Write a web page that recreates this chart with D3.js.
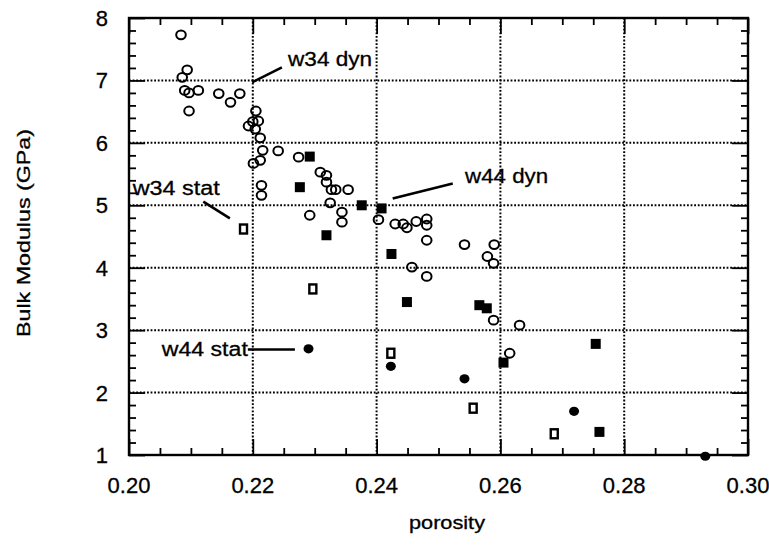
<!DOCTYPE html>
<html>
<head>
<meta charset="utf-8">
<script src="https://cdn.jsdelivr.net/npm/d3@7"></script>
<style>
  body { margin: 0; background: #fff; }
  text { font-family: "Liberation Sans", Arial, Helvetica, sans-serif; fill: #000; stroke: #000; stroke-width: 0.3px; }
</style>
</head>
<body>
<div id="canvas"></div>
<script>
//chart values: [porosity, bulk modulus GPa]
var w34dyn = [
  [0.2084, 7.73], [0.2094, 7.17], [0.2086, 7.05], [0.2090, 6.84], [0.2097, 6.80],
  [0.2112, 6.84], [0.2097, 6.51], [0.2145, 6.79], [0.2164, 6.65], [0.2179, 6.79],
  [0.2205, 6.51], [0.2193, 6.27], [0.2200, 6.34], [0.2209, 6.35], [0.2204, 6.22],
  [0.2212, 6.08], [0.2216, 5.88], [0.2241, 5.87], [0.2274, 5.77], [0.2212, 5.72],
  [0.2201, 5.67], [0.2214, 5.32], [0.2214, 5.16], [0.2309, 5.53], [0.2319, 5.48],
  [0.2319, 5.37], [0.2327, 5.25], [0.2334, 5.25], [0.2354, 5.25], [0.2325, 5.04],
  [0.2292, 4.84], [0.2344, 4.89], [0.2344, 4.73], [0.2403, 4.77], [0.2430, 4.70],
  [0.2443, 4.70], [0.2449, 4.64], [0.2464, 4.74], [0.2481, 4.78], [0.2481, 4.68],
  [0.2481, 4.44], [0.2457, 4.01], [0.2481, 3.86], [0.2542, 4.37], [0.2590, 4.37],
  [0.2579, 4.18], [0.2589, 4.07], [0.2589, 3.16], [0.2631, 3.08], [0.2615, 2.63]
];
var w44dyn = [
  [0.2292, 5.78], [0.2276, 5.29], [0.2319, 4.52], [0.2376, 5.00], [0.2408, 4.95],
  [0.2424, 4.22], [0.2449, 3.45], [0.2566, 3.40], [0.2578, 3.35], [0.2605, 2.48],
  [0.2754, 2.78], [0.2760, 1.37]
];
var w34stat = [
  [0.2185, 4.62], [0.2297, 3.66], [0.2423, 2.63], [0.2556, 1.75], [0.2687, 1.34]
];
var w44stat = [
  [0.2290, 2.70], [0.2423, 2.42], [0.2542, 2.22], [0.2719, 1.70], [0.2931, 0.98]
];

//tick values
var xMajor = [0.20, 0.22, 0.24, 0.26, 0.28, 0.30];
var xMinor = d3.range(0.205, 0.30, 0.005).filter(v => Math.abs(v * 50 - Math.round(v * 50)) > 1e-6);
var yMajor = [1, 2, 3, 4, 5, 6, 7, 8];
var yMinor = d3.range(1.2, 8, 0.2).filter(v => Math.abs(v - Math.round(v)) > 1e-6);

//annotation labels: text start/baseline and leader line, in data units
var labels = [
  {text: 'w34 dyn', at: [0.2257, 7.23], from: [0.2199, 6.97], to: [0.2247, 7.21], len: 84},
  {text: 'w44 dyn', at: [0.2543, 5.35], from: [0.2426, 5.11], to: [0.2523, 5.35], len: 83},
  {text: 'w34 stat', at: [0.2006, 5.17], from: [0.2120, 5.06], to: [0.2163, 4.79], len: 87},
  {text: 'w44 stat', at: [0.2053, 2.59], from: [0.2192, 2.69], to: [0.2268, 2.69], len: 86}
];

var cv = {width: 769, height: 546, top: 18, right: 21, bottom: 91, left: 129};
var w = cv.width - cv.left - cv.right;
var h = cv.height - cv.top - cv.bottom;

var x = d3.scaleLinear().domain([0.20, 0.30]).range([0, w]);
var y = d3.scaleLinear().domain([1, 8]).range([h, 0]);

var svg = d3.select('#canvas').append('svg')
  .attr('width', cv.width)
  .attr('height', cv.height);

var g = svg.append('g').attr('transform', 'translate(' + cv.left + ',' + cv.top + ')');

//dotted grid
g.selectAll('.vgrid')
  .data(xMajor.slice(1, -1))
  .enter().append('line')
  .attr('x1', d => x(d)).attr('x2', d => x(d))
  .attr('y1', 0).attr('y2', h)
  .attr('stroke', '#000').attr('stroke-width', 2)
  .attr('stroke-dasharray', '1.8,1.8');

g.selectAll('.hgrid')
  .data(yMajor.slice(1, -1))
  .enter().append('line')
  .attr('x1', 0).attr('x2', w)
  .attr('y1', d => y(d)).attr('y2', d => y(d))
  .attr('stroke', '#000').attr('stroke-width', 2)
  .attr('stroke-dasharray', '1.8,1.8');

//ticks on all four sides, pointing inward
function ticks(axis, values, size, tr) {
  var a = g.append('g').attr('transform', tr)
    .call(axis.tickValues(values).tickSize(-size).tickFormat(''));
  a.select('.domain').remove();
  a.selectAll('line').attr('stroke', '#000').attr('stroke-width', 1.8);
}
ticks(d3.axisBottom(x), xMinor, 7, 'translate(0,' + h + ')');
ticks(d3.axisBottom(x), xMajor, 16, 'translate(0,' + h + ')');
ticks(d3.axisTop(x), xMinor, 7, 'translate(0,0)');
ticks(d3.axisTop(x), xMajor, 16, 'translate(0,0)');
ticks(d3.axisLeft(y), yMinor, 7, 'translate(0,0)');
ticks(d3.axisLeft(y), yMajor, 16, 'translate(0,0)');
ticks(d3.axisRight(y), yMinor, 7, 'translate(' + w + ',0)');
ticks(d3.axisRight(y), yMajor, 16, 'translate(' + w + ',0)');

//frame
g.append('rect')
  .attr('width', w).attr('height', h)
  .attr('fill', 'none').attr('stroke', '#000').attr('stroke-width', 2.4);

//tick labels
g.selectAll('.xlab')
  .data(xMajor)
  .enter().append('text')
  .attr('x', d => x(d))
  .attr('y', h + 38)
  .attr('text-anchor', 'middle')
  .attr('font-size', 22)
  .text(d => d.toFixed(2));

g.selectAll('.ylab')
  .data(yMajor)
  .enter().append('text')
  .attr('x', -21)
  .attr('y', d => y(d) + 8)
  .attr('text-anchor', 'end')
  .attr('font-size', 22)
  .text(d => d);

//axis titles
svg.append('text')
  .attr('x', 447).attr('y', 529)
  .attr('text-anchor', 'middle')
  .attr('font-size', 18)
  .attr('textLength', 76).attr('lengthAdjust', 'spacingAndGlyphs')
  .text('porosity');

svg.append('text')
  .attr('transform', 'translate(30,233) rotate(-90)')
  .attr('text-anchor', 'middle')
  .attr('font-size', 18)
  .attr('textLength', 208).attr('lengthAdjust', 'spacingAndGlyphs')
  .text('Bulk Modulus (GPa)');

//w34 dyn: open circles
g.selectAll('.w34dyn')
  .data(w34dyn)
  .enter().append('ellipse')
  .attr('cx', d => x(d[0])).attr('cy', d => y(d[1]))
  .attr('rx', 4.8).attr('ry', 4.4)
  .attr('fill', 'none').attr('stroke', '#000').attr('stroke-width', 2);

//w44 dyn: filled squares
g.selectAll('.w44dyn')
  .data(w44dyn)
  .enter().append('rect')
  .attr('x', d => x(d[0]) - 5).attr('y', d => y(d[1]) - 5)
  .attr('width', 10).attr('height', 10)
  .attr('fill', '#000');

//w34 stat: open squares
g.selectAll('.w34stat')
  .data(w34stat)
  .enter().append('rect')
  .attr('x', d => x(d[0]) - 3.5).attr('y', d => y(d[1]) - 4.5)
  .attr('width', 7).attr('height', 9)
  .attr('fill', '#fff').attr('stroke', '#000').attr('stroke-width', 2.4);

//w44 stat: filled ovals
g.selectAll('.w44stat')
  .data(w44stat)
  .enter().append('ellipse')
  .attr('cx', d => x(d[0])).attr('cy', d => y(d[1]))
  .attr('rx', 5).attr('ry', 4.6)
  .attr('fill', '#000');

//annotations
g.selectAll('.lead')
  .data(labels)
  .enter().append('line')
  .attr('x1', d => x(d.from[0])).attr('y1', d => y(d.from[1]))
  .attr('x2', d => x(d.to[0])).attr('y2', d => y(d.to[1]))
  .attr('stroke', '#000').attr('stroke-width', 2.6);

g.selectAll('.note')
  .data(labels)
  .enter().append('text')
  .attr('x', d => x(d.at[0])).attr('y', d => y(d.at[1]))
  .attr('font-size', 20)
  .attr('textLength', d => d.len).attr('lengthAdjust', 'spacingAndGlyphs')
  .text(d => d.text);
</script>
</body>
</html>
